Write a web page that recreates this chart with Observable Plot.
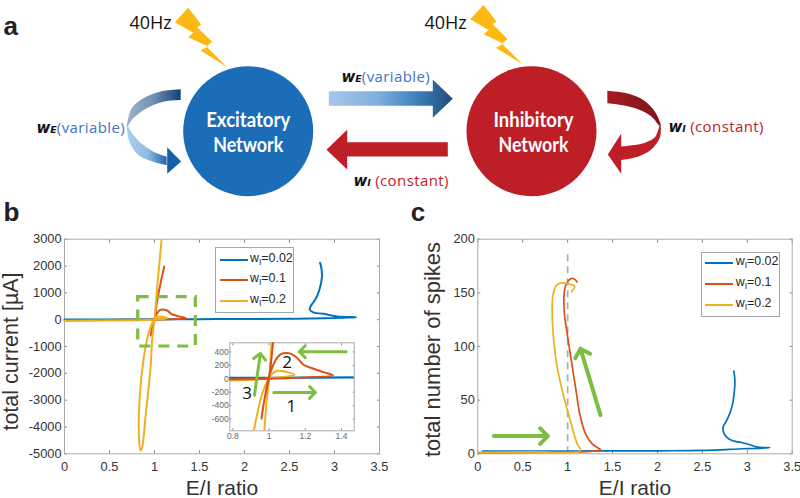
<!DOCTYPE html>
<html><head><meta charset="utf-8">
<script src="https://cdn.jsdelivr.net/npm/d3@7"></script>
<script src="https://cdn.jsdelivr.net/npm/@observablehq/plot@0.6"></script>
<style>
html,body{margin:0;padding:0;background:#fff}
#page{position:relative;width:800px;height:498px;overflow:hidden;background:#fff;font-family:"Liberation Sans",sans-serif}
#page>svg,#page>div{position:absolute}
.legend{box-sizing:border-box;border:1px solid #a6a6a6;background:#fff;color:#262626;font-size:12.4px}
.row{position:absolute;left:0;right:0;height:0}
.row i{position:absolute;height:0;border-top:2px solid}
.row span{position:absolute;white-space:nowrap;line-height:14px;top:-9px}
.row sub{font-size:8.5px;line-height:0;vertical-align:-3px}
</style></head>
<body><div id="page"></div>
<script>
// ---------- series: panel b (E/I ratio, total current)
const bBlueX=[0,0.5,1,1.5,2,2.5,2.9,3.1,3.24,3.03,2.88,2.77,2.725,2.74,2.79,2.83,2.86,2.855,2.84];
const bBlueY=[5,10,15,20,25,35,55,75,93,120,220,265,370,530,770,1090,1580,1900,2120];
const bRedX=[0,0.5,1,1.2,1.353,1.30,1.246,1.19,1.154,1.127,1.10,1.063,1.035,1.008,0.997,0.975,0.958,0.968,0.985,1.0,1.03,1.07,1.108];
const bRedY=[-10,-8,0,20,50,99,149,208,312,362,382,362,273,99,10,-300,-595,-400,-170,10,715,1400,1985];
const bYelX=[0,0.5,0.9,1.05,1.142,1.10,1.048,1.017,0.997,0.962,0.916,0.881,0.833,0.826,0.844,0.863,0.90,0.956,0.974,0.985,1.0,1.03,1.078];
const bYelY=[-45,-35,-15,20,60,99,119,74,0,-223,-769,-1400,-3010,-4250,-4870,-4750,-3630,-1770,-769,-372,0,1210,2950];
// ---------- series: panel c (E/I ratio, total number of spikes)
const cBlueX=[0.05,1,2,2.5,2.96,3.25,3.11,3.02,2.93,2.83,2.77,2.74,2.73,2.77,2.81,2.84,2.86,2.86,2.85];
const cBlueY=[2.5,2.6,2.8,3.1,4.7,5.6,6.2,8.7,10.6,12.4,15.5,19.3,24.8,31,38.8,48,62,71,77];
const cRedX=[0,0.995,1.255,1.366,1.336,1.273,1.2,1.143,1.088,1.03,0.995,0.965,0.961,0.984,1.03,1.075,1.106];
const cRedY=[1,1.6,2.2,3.7,5.6,9.3,18.6,34,62,93,112,130,149,158,163,163,160];
const cYelX=[0,0.6,1.143,1.106,1.03,0.958,0.883,0.839,0.828,0.839,0.876,0.92,0.984,1.03,1.08,1.043];
const cYelY=[1.3,1.8,3,9.3,31,53,81,112,133.5,149,157,159,159,158,156,151];
const seriesNames=["wI=0.02","wI=0.1","wI=0.2"];
const seriesColors=["#0072BD","#D95319","#EDB120"];
// ---------- ticks
const bXTicks=[0,0.5,1,1.5,2,2.5,3,3.5];
const bYTicks=[3000,2000,1000,0,-1000,-2000,-3000,-4000,-5000];
const cYTicks=[0,50,100,150,200];
const insetXTicks=[0.8,1,1.2,1.4];
const insetYTicks=[400,200,0,-200,-400,-600];
// ---------- annotations
const zoomBox=[{x1:0.819,x2:1.459,y1:-1000,y2:840}];
const insetArrows=[{x1:1.026,y1:-204,x2:1.256,y2:-204},{x1:1.425,y1:402,x2:1.167,y2:402},{x1:0.919,y1:-244,x2:0.952,y2:377}];
const insetNums=[{x:1.123,y:-417,t:"1"},{x:1.10,y:242,t:"2"},{x:0.879,y:-219,t:"3"}];
const cArrows=[{x1:0.178,y1:16.5,x2:0.78,y2:16.5},{x1:1.366,y1:36,x2:1.143,y2:98}];
// ---------- schematic shapes (pixel space of panel a)
const bolt=[[563,22],[602,72],[590,80],[635,124],[618,138],[680,200],[600,150],[623,138],[563,110],[578,97],[523,65]].map(p=>[p[0]/3,p[1]/3]);
const bolt2=bolt.map(p=>[p[0]+295.4,p[1]-2.8]);
const circles=[{x:247.7,y:130.7,c:"#1C6DB7"},{x:531,y:130.7,c:"#BE1E26"}];
const loopLTop=[[542,268,542,300],[480,275,490,305],[430,295,440,325],[395,325,400,355],[380,378,384,378]].map(r=>r.map(v=>v/3));
const loopLLow=[[380,378,384,378],[388,425,400,405],[415,465,430,435],[460,485,470,460],[500,495,500,470]].map(r=>r.map(v=>v/3));
const loopLHead=[[500,440],[542,483],[500,520]].map(p=>[p[0]/3,p[1]/3]);
const loopRTop=[[622,272,622,310],[680,280,680,318],[730,300,725,332],[765,335,755,350],[782,372,778,378]].map(r=>[400+r[0]/3,r[1]/3,400+r[2]/3,r[3]/3]);
const loopRLow=[[782,372,778,378],[780,412,766,410],[752,450,735,428],[710,471,695,436],[662,480,662,440]].map(r=>[400+r[0]/3,r[1]/3,400+r[2]/3,r[3]/3]);
const loopRHead=[[662,400],[622,462],[662,520]].map(p=>[400+p[0]/3,p[1]/3]);
const arrowEI=[[328.3,90.7],[432.3,90.7],[432.3,79],[452.3,98.3],[432.3,117.3],[432.3,105.3],[328.3,105.3]];
const arrowIE=[[447.3,141.7],[346.7,141.7],[346.7,129.3],[326,149.3],[346.7,169],[346.7,156],[447.3,156]];
const grads=[
 ["gLT",127,181,[["0","#9FB4CA"],["0.5","#6F8FB2"],["1","#123F75"]]],
 ["gLL",127,168,[["0","#AFD0EC"],["0.5","#8FBCE2"],["1","#1561A8"]]],
 ["gEI",328,452,[["0","#A6C8E8"],["0.4","#7FAEDD"],["0.7","#3F82BF"],["1","#1F4E79"]]],
 ["gRT",607,660,[["0","#A51C22"],["1","#7E1519"]]]
];
const fontHead='"Open Sans",sans-serif';
const circleWidths={Excitatory:84,Network:70,Inhibitory:80};

const page=document.getElementById("page");
const defs=()=>{
  const d=d3.create("svg:defs");
  for(const [id,a,b,stops] of grads){
    const g=d.append("linearGradient").attr("id",id).attr("gradientUnits","userSpaceOnUse")
      .attr("x1",a).attr("x2",b).attr("y1",0).attr("y2",0);
    for(const [o,c] of stops) g.append("stop").attr("offset",o).attr("stop-color",c);
  }
  return d.node();
};
const poly=(pts,fill)=>Plot.line(pts,{x:d=>d[0],y:d=>d[1],fill,stroke:"none"});
const band=(rows,fill)=>Plot.area(rows,{x1:d=>d[0],y1:d=>d[1],x2:d=>d[2],y2:d=>d[3],fill,curve:"catmull-rom"});
const lab=(t,x,y,o={})=>Plot.text([t],{x:()=>x,y:()=>y,textAnchor:"start",lineAnchor:"bottom",...o});
const netText={textAnchor:"middle",fontFamily:"Lato",fontWeight:700,fontSize:20.5,fill:"#fff"};

// ---------- panel a
const a=Plot.plot({width:800,height:205,margin:0,
  x:{domain:[0,800],axis:null},y:{domain:[205,0],axis:null},
  style:{background:"transparent",overflow:"visible"},
  marks:[defs,
    poly(bolt,"#FDB913"),poly(bolt2,"#FDB913"),
    Plot.dot(circles,{x:"x",y:"y",r:65,fill:"c",stroke:"none"}),
    band(loopLTop,"url(#gLT)"),band(loopLLow,"url(#gLL)"),poly(loopLHead,"#1561A8"),
    band(loopRTop,"url(#gRT)"),band(loopRLow,"#BE1E26"),poly(loopRHead,"#BE1E26"),
    poly(arrowEI,"url(#gEI)"),poly(arrowIE,"#BE1E26"),
    lab("40Hz",129,28,{fontFamily:fontHead,fontSize:18,fill:"#111"}),
    lab("40Hz",424,28,{fontFamily:fontHead,fontSize:18,fill:"#111"}),
    lab("a",3,34,{fontFamily:"Liberation Sans",fontWeight:"bold",fontSize:26,fill:"#222"}),
    lab("Excitatory",247.7,126,netText),
    lab("Network",247.7,151,netText),
    lab("Inhibitory",533,126,netText),
    lab("Network",533,151,netText),
    lab("wE(variable)",36,132),
    lab("wE(variable)",341,81),
    lab("wI (constant)",353,185),
    lab("wI (constant)",668,131)
  ]});
a.style.left="0";a.style.top="0";
page.append(a);
a.querySelectorAll("text").forEach(t=>{
  const s=t.textContent;
  if(circleWidths[s]){t.setAttribute("textLength",circleWidths[s]);t.setAttribute("lengthAdjust","spacingAndGlyphs");return;}
  if(!/^w[EI]/.test(s)) return;
  const col=s[1]==="E"?"#4472C4":"#C0202A";
  t.textContent="";
  const add=(txt,attrs)=>{const e=document.createElementNS("http://www.w3.org/2000/svg","tspan");e.textContent=txt;for(const k in attrs)e.setAttribute(k,attrs[k]);t.append(e);};
  add("w",{"font-family":"DejaVu Sans","font-weight":"bold","font-style":"italic","font-size":15,fill:"#111"});
  add(s[1],{"font-family":"DejaVu Sans","font-weight":"bold","font-style":"italic","font-size":9.5,fill:"#111"});
  add(s.slice(2),{"font-family":"Open Sans","font-size":15,fill:col,"letter-spacing":0.4});
});

const curve=(X,Y,i,sw,clip)=>Plot.line(Y,{x:X,y:Y,stroke:seriesColors[i],strokeWidth:sw,curve:"catmull-rom",clip});
const frame=()=>Plot.frame({stroke:"#ababab",strokeWidth:1});
const greenArrow=(d,sw,hl)=>Plot.arrow(d,{x1:"x1",y1:"y1",x2:"x2",y2:"y2",stroke:"#7DBE41",strokeWidth:sw,headLength:hl,headAngle:90});
const axes=(xt,yt,fs,ts,o={})=>[
  Plot.axisX(xt,{anchor:"bottom",tickSize:-ts,tickPadding:o.xPad??11,tickFormat:String,label:null,fontSize:fs,stroke:"#8a8a8a",fill:o.fill??"#333"}),
  Plot.axisX(xt,{anchor:"top",tickSize:-ts,tickFormat:()=>"",label:null,stroke:"#8a8a8a"}),
  Plot.axisY(yt,{anchor:"left",tickSize:-ts,tickPadding:o.yPad??6,tickFormat:String,label:null,fontSize:fs,stroke:"#8a8a8a",fill:o.fill??"#333"}),
  Plot.axisY(yt,{anchor:"right",tickSize:-ts,tickFormat:()=>"",label:null,stroke:"#8a8a8a"})
];
const font='"Liberation Sans",sans-serif';
const panelLetter=(t,dx,dy)=>Plot.text([t],{frameAnchor:"top-left",dx,dy,textAnchor:"start",lineAnchor:"bottom",fontFamily:font,fontWeight:"bold",fontSize:26,fill:"#222"});
const xLabel=Plot.text(["E/I ratio"],{frameAnchor:"bottom",dy:41.5,lineAnchor:"bottom",fontSize:21,fill:"#333"});

// ---------- panel b
const b=Plot.plot({width:400,height:293,marginLeft:64,marginRight:21,marginTop:33.7,marginBottom:44.7,
  x:{domain:[0,3.5]},y:{domain:[-5000,3000]},
  style:{background:"transparent",fontFamily:font,overflow:"visible"},
  marks:[...axes(bXTicks,bYTicks,12.8,3),frame(),
    curve(bBlueX,bBlueY,0,2),curve(bRedX,bRedY,1,2),curve(bYelX,bYelY,2,2),
    Plot.rect(zoomBox,{x1:"x1",x2:"x2",y1:"y1",y2:"y2",fill:"none",stroke:"#7DBE41",strokeWidth:3.2,strokeDasharray:"11,8"}),
    xLabel,
    Plot.text(["total current [\u00b5A]"],{frameAnchor:"left",rotate:-90,dx:-53,dy:5,textAnchor:"middle",lineAnchor:"middle",fontSize:21.5,fill:"#333"}),
    panelLetter("b",-61,-18)
  ]});
b.style.left="0";b.style.top="205px";
page.append(b);

// ---------- inset
const ins=Plot.plot({width:154,height:115,marginLeft:29.3,marginRight:0.3,marginTop:12.3,marginBottom:14.7,
  x:{domain:[0.783,1.47]},y:{domain:[-774,535]},
  style:{background:"transparent",fontFamily:font,overflow:"visible"},
  marks:[...axes(insetXTicks,insetYTicks,8.5,2,{xPad:4,yPad:3,fill:"#666"}),frame(),
    curve(bBlueX,bBlueY,0,2.2,"frame"),curve(bYelX,bYelY,2,2,"frame"),curve(bRedX,bRedY,1,2,"frame"),
    greenArrow(insetArrows,3,4.2),
    Plot.text(insetNums,{x:"x",y:"y",text:"t",fontFamily:"Open Sans",fontSize:17,fill:"#111"})
  ]});
ins.style.left="200px";ins.style.top="330px";
page.append(ins);

// ---------- panel c
const c=Plot.plot({width:400,height:293,marginLeft:77.3,marginRight:8.3,marginTop:33.7,marginBottom:44.7,
  x:{domain:[0,3.5]},y:{domain:[0,200]},
  style:{background:"transparent",fontFamily:font,overflow:"visible"},
  marks:[...axes(bXTicks,cYTicks,12.8,3),frame(),
    Plot.ruleX([1],{y1:0,y2:189,stroke:"#b0b0b0",strokeWidth:1.8,strokeDasharray:"7,5"}),
    curve(cBlueX,cBlueY,0,1.7),curve(cRedX,cRedY,1,1.7),curve(cYelX,cYelY,2,1.7),
    greenArrow(cArrows,4,4.1),
    xLabel,
    Plot.text(["total number of spikes"],{frameAnchor:"left",rotate:-90,dx:-45,dy:3,textAnchor:"middle",lineAnchor:"middle",fontSize:22,fill:"#333"}),
    panelLetter("c",-67,-18)
  ]});
c.style.left="400px";c.style.top="205px";
page.append(c);

// ---------- legends
function legend(left,top,w,h,lineL,lineW,textL,ys){
  const box=document.createElement("div");
  box.className="legend";
  box.style.cssText=`left:${left}px;top:${top}px;width:${w}px;height:${h}px`;
  seriesNames.forEach((n,i)=>{
    const r=document.createElement("div");r.className="row";r.style.top=ys[i]+"px";
    const l=document.createElement("i");l.style.cssText=`left:${lineL}px;width:${lineW}px;border-color:${seriesColors[i]};top:-1px`;
    const s=document.createElement("span");s.style.left=textL+"px";
    s.innerHTML=n.replace("wI","w<sub>I</sub>");
    r.append(l,s);box.append(r);
  });
  page.append(box);
}
legend(215,246.7,79,66,4,27.5,34,[12,32,53]);
legend(700.7,251.7,79,65,3.5,28,34,[10.5,31,52]);
</script></body></html>
